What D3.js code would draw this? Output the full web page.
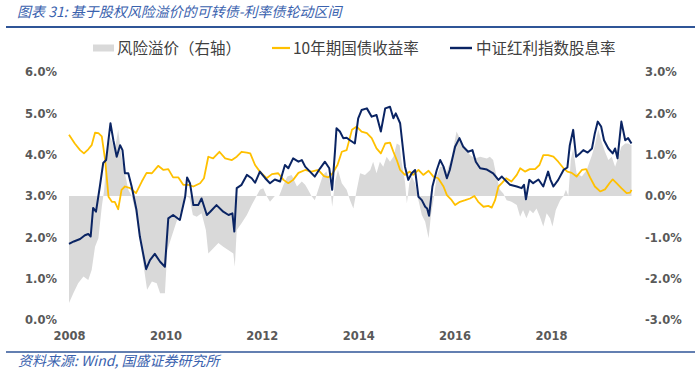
<!DOCTYPE html>
<html><head><meta charset="utf-8">
<script src="https://cdn.jsdelivr.net/npm/d3@7/dist/d3.min.js"></script>
<style>
html,body{margin:0;padding:0;background:#fff;}
svg{display:block;}
</style></head>
<body>
<svg id="chart" width="700" height="374"></svg>
<script>
// ---------- data ----------
const titleText = "图表 31: 基于股权风险溢价的可转债-利率债轮动区间";
const sourceText = "资料来源: Wind, 国盛证券研究所";
const seriesNames = ["风险溢价（右轴）", "10年期国债收益率", "中证红利指数股息率"];
const xTickYears = [2008, 2010, 2012, 2014, 2016, 2018];
const leftTicks = [0, 1, 2, 3, 4, 5, 6];
const rightTicks = [-3, -2, -1, 0, 1, 2, 3];

// 中证红利指数股息率 (%), left axis
const divDates = [2008.00,2008.10,2008.23,2008.33,2008.40,2008.45,2008.50,2008.56,2008.64,2008.71,2008.77,2008.86,2008.92,2008.99,2009.06,2009.11,2009.16,2009.23,2009.30,2009.40,2009.47,2009.60,2009.68,2009.78,2009.89,2009.99,2010.06,2010.16,2010.30,2010.41,2010.45,2010.51,2010.58,2010.68,2010.75,2010.86,2010.93,2011.06,2011.20,2011.31,2011.39,2011.43,2011.48,2011.58,2011.69,2011.79,2011.86,2011.96,2012.07,2012.17,2012.27,2012.38,2012.48,2012.55,2012.65,2012.76,2012.83,2012.90,2013.00,2013.10,2013.21,2013.31,2013.40,2013.46,2013.52,2013.55,2013.62,2013.69,2013.76,2013.83,2013.93,2014.00,2014.07,2014.18,2014.28,2014.38,2014.47,2014.56,2014.66,2014.73,2014.78,2014.87,2014.97,2015.04,2015.11,2015.18,2015.25,2015.32,2015.39,2015.43,2015.47,2015.54,2015.63,2015.70,2015.77,2015.84,2015.90,2016.01,2016.10,2016.18,2016.28,2016.37,2016.44,2016.53,2016.67,2016.80,2016.91,2016.98,2017.08,2017.15,2017.29,2017.39,2017.44,2017.48,2017.55,2017.63,2017.74,2017.84,2017.94,2017.99,2018.05,2018.15,2018.26,2018.34,2018.39,2018.46,2018.52,2018.60,2018.67,2018.76,2018.85,2018.91,2018.97,2019.04,2019.10,2019.19,2019.28,2019.33,2019.38,2019.46,2019.54,2019.60,2019.67];
const divValues = [1.84,1.90,1.96,2.05,2.08,2.02,2.71,2.62,3.23,3.80,3.87,4.76,4.35,3.95,4.23,4.11,3.55,3.55,3.23,2.66,2.02,1.23,1.45,1.60,1.41,1.29,2.46,2.54,2.42,2.98,3.45,3.31,2.78,2.78,2.94,2.54,2.62,2.78,2.62,2.54,2.58,2.14,3.19,3.27,3.51,3.43,3.32,3.59,3.43,3.31,3.40,3.35,3.75,3.67,3.91,3.83,3.87,3.71,3.59,3.47,3.67,3.83,3.67,3.15,4.11,4.64,4.56,4.40,4.41,4.35,4.27,4.88,5.08,5.12,4.92,4.96,4.56,5.12,5.16,4.88,5.00,4.76,3.71,3.39,3.55,3.63,2.98,2.90,2.74,2.70,2.52,3.23,3.63,3.87,3.71,3.43,3.63,4.19,4.40,4.19,4.07,4.11,3.83,3.67,3.64,3.55,3.39,3.47,3.35,3.27,3.23,3.19,3.27,2.92,3.39,3.31,3.40,3.23,3.59,3.39,3.23,3.39,3.63,3.69,4.23,4.60,3.95,4.03,4.11,4.05,4.15,4.52,4.80,4.68,4.35,4.15,4.03,4.15,3.91,4.80,4.35,4.40,4.27];

// 10年期国债收益率 (%), left axis
const bondDates = [2008.00,2008.12,2008.23,2008.31,2008.40,2008.47,2008.54,2008.61,2008.68,2008.75,2008.82,2008.89,2008.95,2009.02,2009.09,2009.16,2009.27,2009.39,2009.51,2009.61,2009.72,2009.85,2009.96,2010.06,2010.16,2010.27,2010.37,2010.48,2010.58,2010.72,2010.80,2010.89,2010.99,2011.12,2011.24,2011.38,2011.48,2011.58,2011.69,2011.76,2011.86,2011.96,2012.10,2012.21,2012.34,2012.45,2012.55,2012.65,2012.76,2012.90,2013.03,2013.17,2013.29,2013.38,2013.47,2013.57,2013.66,2013.76,2013.87,2013.97,2014.07,2014.18,2014.28,2014.38,2014.47,2014.56,2014.66,2014.73,2014.80,2014.87,2014.97,2015.07,2015.14,2015.25,2015.35,2015.46,2015.56,2015.66,2015.77,2015.84,2015.94,2016.01,2016.11,2016.22,2016.32,2016.41,2016.49,2016.60,2016.70,2016.77,2016.84,2016.91,2016.98,2017.07,2017.18,2017.29,2017.36,2017.46,2017.56,2017.67,2017.76,2017.84,2017.94,2018.05,2018.15,2018.26,2018.34,2018.43,2018.53,2018.64,2018.73,2018.81,2018.91,2019.02,2019.12,2019.22,2019.28,2019.36,2019.46,2019.57,2019.64,2019.67];
const bondValues = [4.48,4.27,4.11,4.03,4.13,4.23,4.53,4.52,4.44,3.87,2.98,2.86,2.86,2.68,3.15,3.23,3.19,3.07,3.35,3.56,3.55,3.73,3.63,3.65,3.45,3.45,3.27,3.27,3.23,3.31,3.43,3.95,3.91,4.07,3.91,3.87,3.95,4.07,4.05,4.03,3.75,3.59,3.43,3.53,3.55,3.39,3.31,3.39,3.56,3.63,3.59,3.63,3.48,3.45,3.55,3.75,4.07,4.11,4.60,4.68,4.56,4.52,4.40,4.15,4.03,4.27,4.29,4.07,3.87,3.63,3.51,3.59,3.51,3.63,3.51,3.61,3.47,3.43,3.23,3.02,2.90,2.78,2.86,2.90,2.94,3.00,2.86,2.74,2.76,2.72,2.90,3.23,3.31,3.43,3.35,3.51,3.67,3.59,3.65,3.65,3.75,3.99,3.99,3.95,3.83,3.67,3.59,3.56,3.47,3.63,3.65,3.45,3.23,3.11,3.16,3.32,3.40,3.31,3.19,3.07,3.08,3.15];

// 风险溢价 (%), right axis
const premDates = [2008.00,2008.09,2008.19,2008.30,2008.40,2008.47,2008.54,2008.61,2008.68,2008.73,2008.78,2008.86,2008.95,2009.02,2009.09,2009.16,2009.23,2009.30,2009.37,2009.47,2009.58,2009.62,2009.72,2009.82,2009.89,2009.99,2010.04,2010.13,2010.23,2010.34,2010.43,2010.50,2010.57,2010.65,2010.75,2010.84,2010.89,2010.99,2011.10,2011.20,2011.31,2011.41,2011.44,2011.48,2011.58,2011.69,2011.79,2011.89,2011.96,2012.03,2012.10,2012.17,2012.27,2012.36,2012.45,2012.53,2012.62,2012.73,2012.83,2012.90,2012.96,2013.03,2013.10,2013.17,2013.27,2013.34,2013.41,2013.46,2013.52,2013.58,2013.66,2013.76,2013.83,2013.90,2013.97,2014.04,2014.14,2014.25,2014.31,2014.38,2014.45,2014.52,2014.59,2014.66,2014.73,2014.80,2014.86,2014.90,2014.97,2015.01,2015.06,2015.11,2015.18,2015.25,2015.32,2015.39,2015.46,2015.51,2015.56,2015.63,2015.70,2015.77,2015.84,2015.94,2016.04,2016.11,2016.22,2016.32,2016.42,2016.53,2016.67,2016.73,2016.80,2016.87,2016.94,2017.01,2017.08,2017.18,2017.29,2017.36,2017.42,2017.49,2017.56,2017.63,2017.70,2017.77,2017.84,2017.91,2017.98,2018.03,2018.10,2018.19,2018.26,2018.31,2018.36,2018.41,2018.46,2018.53,2018.64,2018.74,2018.85,2018.91,2018.98,2019.05,2019.12,2019.19,2019.26,2019.33,2019.40,2019.46,2019.54,2019.60,2019.67];
const premValues = [-2.59,-2.35,-2.11,-1.95,-2.03,-1.79,-1.23,-1.02,-0.26,0.15,0.95,1.43,1.11,1.60,0.95,0.55,0.15,0.00,-0.34,-1.06,-1.95,-2.27,-2.07,-2.11,-2.35,-2.35,-1.31,-0.98,-0.62,-0.34,0.00,-0.05,-0.46,-0.50,-0.42,-0.82,-1.39,-1.27,-1.14,-1.23,-1.31,-1.39,-1.71,-0.82,-0.66,-0.46,-0.22,0.00,0.15,0.19,0.00,-0.14,0.00,0.00,0.27,0.47,0.51,0.23,0.35,0.27,0.15,0.00,-0.10,0.15,0.51,0.59,0.35,-0.26,0.35,0.63,0.31,0.15,-0.10,-0.30,0.15,0.55,0.51,0.63,0.83,0.55,0.83,0.71,0.95,0.83,0.95,1.27,1.23,0.83,0.35,-0.18,0.31,0.47,0.31,-0.10,-0.46,-0.62,-1.02,-0.46,-0.10,0.47,0.71,0.71,0.59,0.95,1.56,1.40,1.15,0.99,0.91,0.95,0.91,0.95,0.87,0.47,0.15,0.06,-0.10,-0.14,-0.22,-0.50,-0.34,-0.54,-0.34,-0.42,-0.30,-0.50,-0.74,-0.42,-0.54,-0.74,-0.34,-0.10,0.00,0.15,0.00,0.87,1.15,0.55,0.47,0.63,0.99,1.23,1.60,1.31,1.07,0.87,0.95,0.71,0.95,1.19,1.27,1.27,1.23];

// ---------- drawing ----------
const svg = d3.select("#chart");
const plot = {left: 69, right: 635.35, top: 72, bottom: 320};

const x = d3.scaleLinear().domain([2008, 2019.75]).range([plot.left, plot.right]);
const yL = d3.scaleLinear().domain([0, 6]).range([plot.bottom, plot.top]);
const yR = d3.scaleLinear().domain([-3, 3]).range([plot.bottom, plot.top]);

const blue = "#2F5597";
const gold = "#FFC000";
const navy = "#0A2463";
const greyFill = "#D9D9D9";

// title
svg.append("text").attr("x", 17).attr("y", 17)
  .attr("font-family", "'Noto Sans CJK SC', sans-serif")
  .attr("font-size", 14).attr("font-style", "italic")
  .attr("fill", "#3A62AE").text(titleText);
svg.append("line").attr("x1", 6).attr("x2", 695).attr("y1", 27).attr("y2", 27)
  .attr("stroke", blue).attr("stroke-width", 2);

// legend
const lg = svg.append("g").attr("font-family", "'Noto Sans CJK SC', sans-serif")
  .attr("font-size", 15.5).attr("fill", "#404040");
lg.append("rect").attr("x", 93).attr("y", 44.5).attr("width", 21).attr("height", 7).attr("fill", greyFill);
lg.append("text").attr("x", 117).attr("y", 53.5).text(seriesNames[0]);
lg.append("line").attr("x1", 272).attr("x2", 290).attr("y1", 48).attr("y2", 48).attr("stroke", gold).attr("stroke-width", 2.2);
lg.append("text").attr("x", 293).attr("y", 53.5).text(seriesNames[1]);
lg.append("line").attr("x1", 450).attr("x2", 472).attr("y1", 48).attr("y2", 48).attr("stroke", navy).attr("stroke-width", 2.4);
lg.append("text").attr("x", 476).attr("y", 53.5).text(seriesNames[2]);

// area (right axis)
const premData = premDates.map((d, i) => ({t: d, v: premValues[i]}));
const area = d3.area().x(d => x(d.t)).y0(yR(0)).y1(d => yR(d.v));
svg.append("path").datum(premData).attr("d", area).attr("fill", greyFill);

// lines
const bondData = bondDates.map((d, i) => ({t: d, v: bondValues[i]}));
const divData = divDates.map((d, i) => ({t: d, v: divValues[i]}));
const line = d3.line().x(d => x(d.t)).y(d => yL(d.v));
svg.append("path").datum(bondData).attr("d", line).attr("fill", "none")
  .attr("stroke", gold).attr("stroke-width", 1.8).attr("stroke-linejoin", "round");
svg.append("path").datum(divData).attr("d", line).attr("fill", "none")
  .attr("stroke", navy).attr("stroke-width", 2).attr("stroke-linejoin", "round");

// axes
function styleAxis(g) {
  g.select(".domain").remove();
  g.selectAll("line").remove();
  g.selectAll("text").attr("font-family", "'DejaVu Sans', Verdana, sans-serif")
    .attr("font-size", 11.5).attr("font-weight", "bold").attr("fill", "#595959");
}
const pct = v => v.toFixed(1) + "%";
svg.append("g").attr("transform", `translate(${plot.left},0)`)
  .call(d3.axisLeft(yL).tickValues(leftTicks).tickFormat(pct).tickSize(0).tickPadding(12))
  .call(styleAxis);
svg.append("g").attr("transform", `translate(632,0)`)
  .call(d3.axisRight(yR).tickValues(rightTicks).tickFormat(pct).tickSize(0).tickPadding(13))
  .call(styleAxis);
svg.append("g").attr("transform", `translate(0,${plot.bottom})`)
  .call(d3.axisBottom(x).tickValues(xTickYears).tickFormat(d3.format("d")).tickSize(0).tickPadding(12))
  .call(styleAxis);

// footer
svg.append("line").attr("x1", 6).attr("x2", 695).attr("y1", 352).attr("y2", 352)
  .attr("stroke", blue).attr("stroke-width", 1.6);
svg.append("text").attr("x", 18).attr("y", 366)
  .attr("font-family", "'Noto Sans CJK SC', sans-serif")
  .attr("font-size", 14).attr("font-style", "italic")
  .attr("fill", "#3A62AE").text(sourceText);
</script>
</body></html>
